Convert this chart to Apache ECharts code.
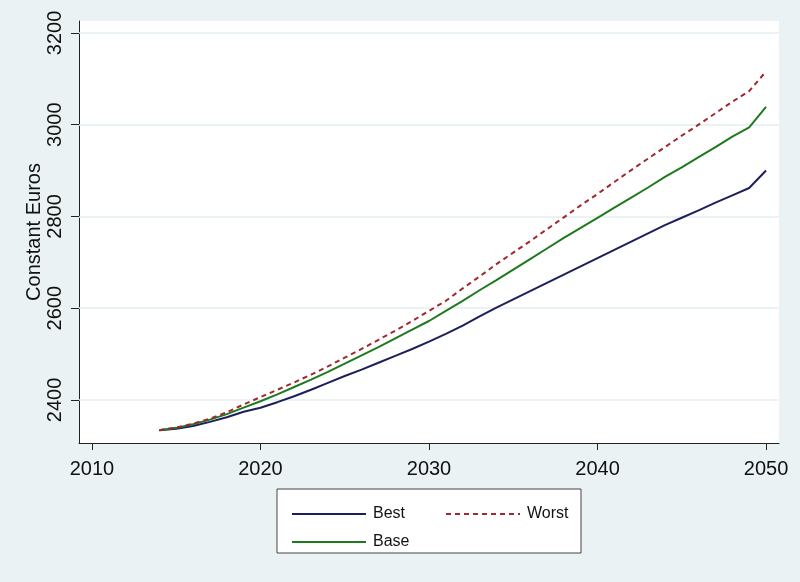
<!DOCTYPE html>
<html>
<head>
<meta charset="utf-8">
<script src="https://cdn.jsdelivr.net/npm/echarts@6/dist/echarts.min.js"></script>
<style>
html,body{margin:0;padding:0;background:#eaf2f3;}
#chart{width:800px;height:582px;}
</style>
</head>
<body>
<div id="chart"></div>
<script>
const years = [2014,2015,2016,2017,2018,2019,2020,2021,2022,2023,2024,2025,2026,2027,2028,2029,2030,2031,2032,2033,2034,2035,2036,2037,2038,2039,2040,2041,2042,2043,2044,2045,2046,2047,2048,2049,2050];
const best = [2334,2337,2343,2352,2362,2374,2383,2395,2408,2422,2437,2452,2466,2481,2496,2511,2527,2544,2562,2582,2601,2619,2637,2655,2673,2691,2709,2727,2745,2763,2781,2797,2813,2830,2846,2862,2900];
const base = [2334,2339,2347,2357,2369,2383,2397,2412,2428,2444,2461,2479,2497,2515,2534,2553,2572,2594,2616,2639,2661,2684,2707,2730,2753,2775,2797,2819,2841,2863,2886,2907,2929,2951,2974,2994,3039];
const worst = [2334,2340,2348,2359,2373,2390,2406,2422,2438,2455,2473,2492,2511,2531,2551,2572,2594,2616,2643,2669,2696,2721,2746,2772,2798,2824,2849,2875,2901,2926,2951,2976,3000,3025,3050,3073,3116];
const xTicks = [2010,2020,2030,2040,2050];
const yTicks = [2400,2600,2800,3000,3200];

const FONT = 'Liberation Sans, Arial, sans-serif';
const pair = arr => years.map((y,i)=>[y,arr[i]]);
const chart = echarts.init(document.getElementById('chart'));
const legendCommon = {
  itemWidth: 74, itemHeight: 14, z: 10,
  itemStyle: {opacity: 0},
  textStyle: {fontFamily: FONT, fontSize: 16, color: '#111', padding: [0,0,0,2]},
  selectedMode: false
};
chart.setOption({
  backgroundColor: '#eaf2f3',
  animation: false,
  grid: {left: 79, right: 21, top: 21, bottom: 139, show: true, backgroundColor: '#ffffff', borderWidth: 0},
  xAxis: {
    type: 'value', min: 2009.23, max: 2050.77,
    axisLine: {show: true, onZero: false, lineStyle: {color: '#222', width: 1}},
    axisTick: {show: true, length: 7, customValues: xTicks, lineStyle: {color: '#222'}},
    axisLabel: {customValues: xTicks, formatter: v => String(v), fontFamily: FONT, fontSize: 20, color: '#111', margin: 16},
    splitLine: {show: false}
  },
  yAxis: {
    type: 'value', min: 2306, max: 3226,
    name: 'Constant Euros', nameLocation: 'middle', nameRotate: 90, nameGap: 35, nameMoveOverlap: false,
    nameTextStyle: {fontFamily: FONT, fontSize: 20, color: '#111'},
    axisLine: {show: true, onZero: false, lineStyle: {color: '#222', width: 1}},
    axisTick: {show: true, length: 8, customValues: yTicks, lineStyle: {color: '#222'}},
    axisLabel: {customValues: yTicks, formatter: v => String(v), rotate: 90, fontFamily: FONT, fontSize: 20, color: '#111', margin: 14},
    splitLine: {show: false}
  },
  graphic: [{
    type: 'rect', z: 1,
    shape: {x: 277, y: 489, width: 304, height: 64},
    style: {fill: '#ffffff', stroke: '#444', lineWidth: 1}
  }],
  legend: [
    Object.assign({data: ['Best'], left: 286, top: 501}, legendCommon),
    Object.assign({data: ['Worst'], left: 440, top: 501}, legendCommon),
    Object.assign({data: ['Base'], left: 286, top: 529}, legendCommon)
  ],
  series: [
    {
      name: 'grid', type: 'line', data: [], silent: true, z: 1,
      markLine: {
        silent: true, symbol: 'none', label: {show: false}, z: 1,
        lineStyle: {color: '#e4eef1', width: 1.5, type: 'solid'},
        data: yTicks.map(v => ({yAxis: v}))
      }
    },
    {name: 'Best', type: 'line', data: pair(best), showSymbol: false, symbol: 'none', z: 3,
     lineStyle: {color: '#1c1f5c', width: 2}, itemStyle: {color: '#1c1f5c'}},
    {name: 'Base', type: 'line', data: pair(base), showSymbol: false, symbol: 'none', z: 3,
     lineStyle: {color: '#1e7a1e', width: 2}, itemStyle: {color: '#1e7a1e'}},
    {name: 'Worst', type: 'line', data: pair(worst), showSymbol: false, symbol: 'none', z: 3,
     lineStyle: {color: '#a0282e', width: 2, type: [5,4]}, itemStyle: {color: '#a0282e'}}
  ]
});
</script>
</body>
</html>
